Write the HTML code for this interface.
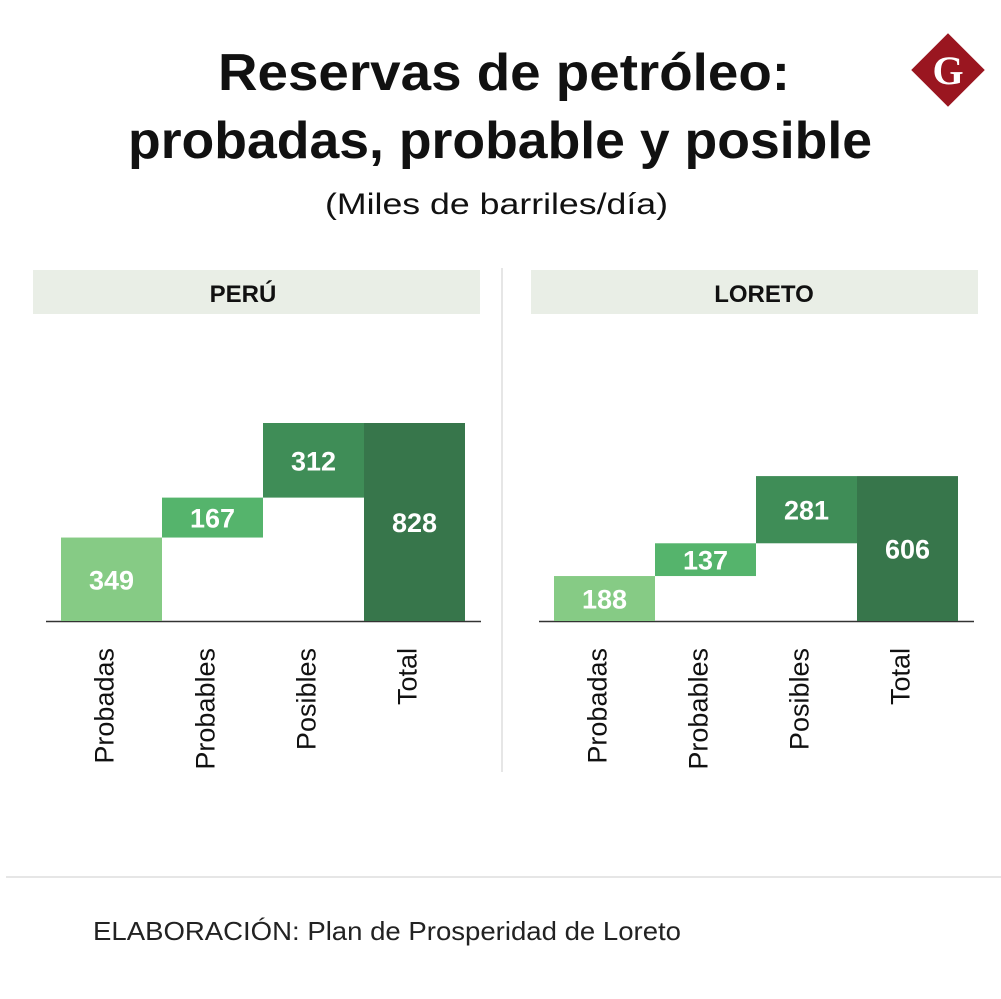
<!DOCTYPE html>
<html><head><meta charset="utf-8"><style>
body{margin:0;background:#fff;width:1001px;height:994px;overflow:hidden;font-family:"Liberation Sans",sans-serif;}
</style></head><body>
<svg width="1001" height="994" xmlns="http://www.w3.org/2000/svg">
<text x="218" y="90" textLength="572" lengthAdjust="spacingAndGlyphs" font-size="52" font-weight="bold" fill="#111">Reservas de petróleo:</text>
<text x="128" y="158" textLength="744" lengthAdjust="spacingAndGlyphs" font-size="52" font-weight="bold" fill="#111">probadas, probable y posible</text>
<text x="325" y="214" textLength="343" lengthAdjust="spacingAndGlyphs" font-size="30" fill="#111">(Miles de barriles/día)</text>
<g>
<rect x="922" y="44" width="52" height="52" fill="#9a1620" transform="rotate(45 948 70)"/>
<text x="948" y="84" text-anchor="middle" font-family="Liberation Serif,serif" font-weight="bold" font-size="40" fill="#fff">G</text>
</g>
<line x1="502" y1="268" x2="502" y2="772" stroke="#ccc"/>
<rect x="33" y="270" width="447" height="44" fill="#e9eee6"/>
<text x="243" y="302" text-anchor="middle" font-size="24" font-weight="bold" fill="#111">PERÚ</text>
<rect x="531" y="270" width="447" height="44" fill="#e9eee6"/>
<text x="764" y="302" text-anchor="middle" font-size="24" font-weight="bold" fill="#111">LORETO</text>
<g id="bars"></g>
<line x1="6" y1="877" x2="1001" y2="877" stroke="#ccc"/>
<text x="93" y="940" textLength="588" lengthAdjust="spacingAndGlyphs" font-size="26" fill="#222">ELABORACIÓN: Plan de Prosperidad de Loreto</text>
</svg>
<script>
const categories=["Probadas","Probables","Posibles","Total"];
const peruValues=[349,167,312,828];
const loretoValues=[188,137,281,606];
const colors=["#86cb85","#55b46c","#3f8d57","#37764b"];
const NS="http://www.w3.org/2000/svg";
const g=document.getElementById('bars');
const baseY=621, scale=198/828, barW=101;
function yOf(v){return baseY-v*scale;}
function draw(vals,x0,prefix){
  const ax=document.createElementNS(NS,'line');
  ax.setAttribute('x1',x0-15);ax.setAttribute('x2',x0+420);ax.setAttribute('y1',baseY+0.5);ax.setAttribute('y2',baseY+0.5);
  ax.setAttribute('stroke','#333');ax.setAttribute('stroke-width','1.5');
  
  
  g.appendChild(ax);
  let cum=0;
  vals.forEach((v,i)=>{
    const isTotal=i===vals.length-1;
    const lo=isTotal?0:cum, hi=isTotal?v:cum+v;
    if(!isTotal)cum+=v;
    const x=x0+i*barW;
    const r=document.createElementNS(NS,'rect');
    r.setAttribute('x',x);r.setAttribute('width',barW);
    r.setAttribute('y',yOf(hi));r.setAttribute('height',yOf(lo)-yOf(hi));
    r.setAttribute('fill',colors[i]);
    
    
    g.appendChild(r);
    const t=document.createElementNS(NS,'text');
    t.setAttribute('x',x+barW/2);t.setAttribute('y',(yOf(hi)+yOf(lo))/2+10);
    t.setAttribute('text-anchor','middle');t.setAttribute('font-size','27');t.setAttribute('font-weight','bold');t.setAttribute('fill','#fff');
    t.textContent=v;
    
    
    g.appendChild(t);
    const c=document.createElementNS(NS,'text');
    const cx=x+barW/2+2, cy=648;
    c.setAttribute('x',cx);c.setAttribute('y',cy);
    c.setAttribute('transform','rotate(-90 '+cx+' '+cy+')');
    c.setAttribute('text-anchor','end');c.setAttribute('font-size','27');c.setAttribute('fill','#111');
    c.textContent=categories[i];
    
    
    g.appendChild(c);
  });
}
draw(peruValues,61,'peru');
draw(loretoValues,554,'loreto');
</script>
</body></html>
